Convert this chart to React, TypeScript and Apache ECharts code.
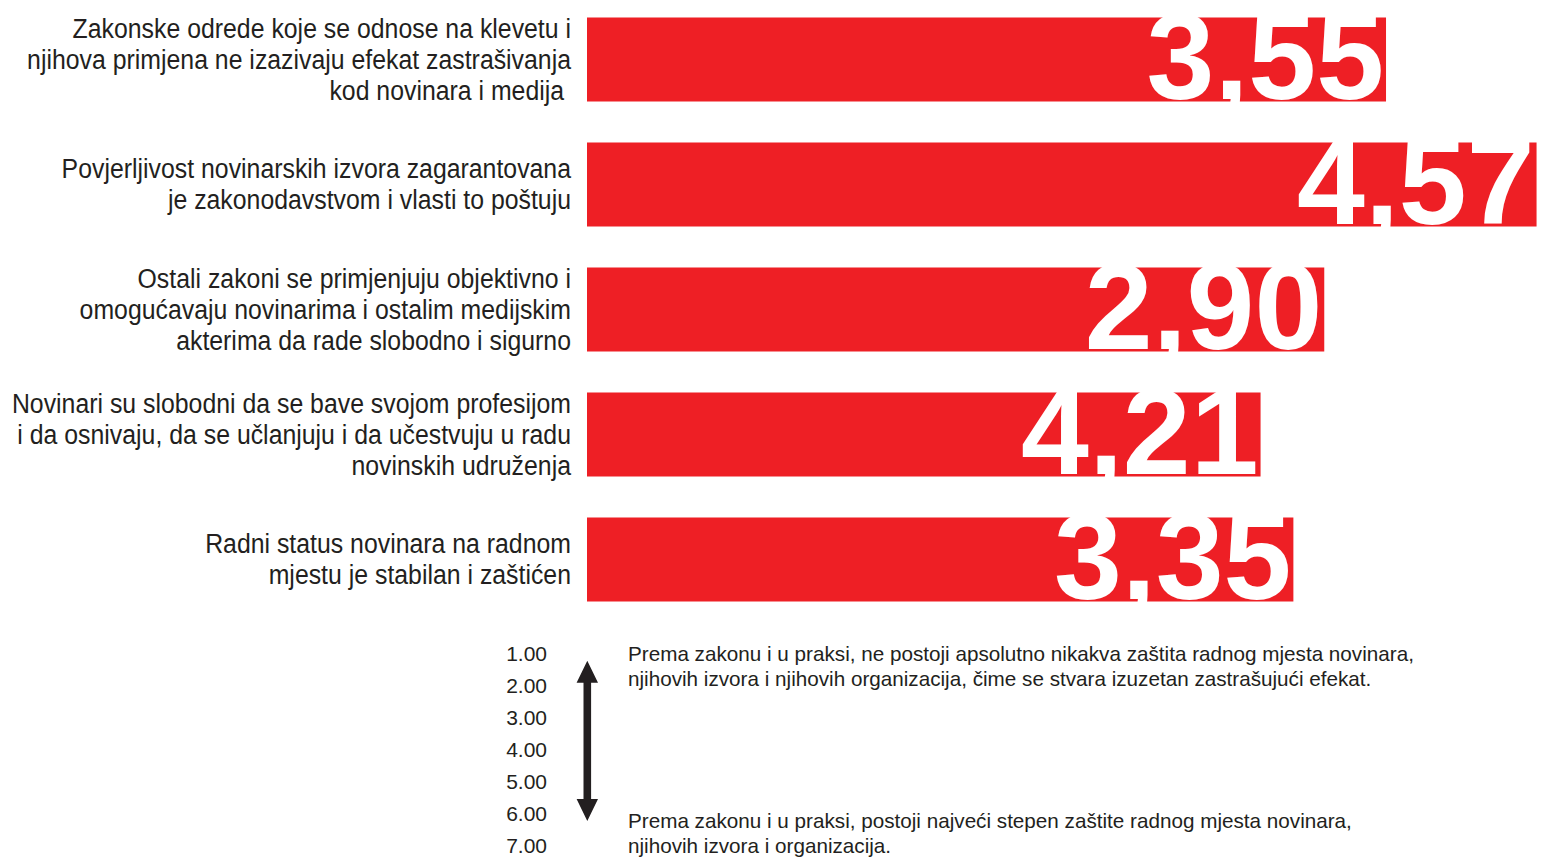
import React, { useEffect, useRef } from "react";
import * as echarts from "echarts";

const categories: string[] = [
  "Zakonske odrede koje se odnose na klevetu i\nnjihova primjena ne izazivaju efekat zastrašivanja\nkod novinara i medija ",
  "Povjerljivost novinarskih izvora zagarantovana\nje zakonodavstvom i vlasti to poštuju",
  "Ostali zakoni se primjenjuju objektivno i\nomogućavaju novinarima i ostalim medijskim\nakterima da rade slobodno i sigurno",
  "Novinari su slobodni da se bave svojom profesijom\ni da osnivaju, da se učlanjuju i da učestvuju u radu\nnovinskih udruženja",
  "Radni status novinara na radnom\nmjestu je stabilan i zaštićen",
];

// score shown on each bar
const scores: number[] = [3.55, 4.57, 2.9, 4.21, 3.35];

// bar lengths as drawn in the reference (not proportional to the scores)
const barLengths: number[] = [4.14, 4.92, 3.82, 3.49, 3.66];

// legend scale
const scaleMin = 1;
const scaleMax = 7;
const scaleTopText =
  "Prema zakonu i u praksi, ne postoji apsolutno nikakva zaštita radnog mjesta novinara,\nnjihovih izvora i njihovih organizacija, čime se stvara izuzetan zastrašujući efekat.";
const scaleBottomText =
  "Prema zakonu i u praksi, postoji najveći stepen zaštite radnog mjesta novinara,\nnjihovih izvora i organizacija.";

const RED = "#ee1f25";
const INK = "#231f20";
const SANS = "'Liberation Sans', Arial, sans-serif";

export default function App() {
  const ref = useRef<HTMLDivElement>(null);

  useEffect(() => {
    if (!ref.current) return;
    const chart = echarts.init(ref.current, undefined, { renderer: "svg" });
    const ax = 587.3;
    chart.setOption({
      animation: false,
      backgroundColor: "#ffffff",
      grid: [
        { left: 587, right: 0, top: -3, height: 625, outerBoundsMode: "none", containLabel: false },
        { left: 555, width: 10, top: 653, height: 192, outerBoundsMode: "none", containLabel: false },
      ],
      xAxis: [
        { type: "value", min: 0, max: 5, show: false, gridIndex: 0 },
        { type: "value", min: 0, max: 1, show: false, gridIndex: 1 },
      ],
      yAxis: [
        {
          type: "category",
          data: categories,
          inverse: true,
          gridIndex: 0,
          axisLine: { show: false },
          axisTick: { show: false },
          splitLine: { show: false },
          axisLabel: { show: false },
        },
        {
          type: "value",
          gridIndex: 1,
          min: scaleMin,
          max: scaleMax,
          interval: 1,
          inverse: true,
          axisLine: { show: false },
          axisTick: { show: false },
          splitLine: { show: false },
          axisLabel: {
            margin: 8,
            fontFamily: SANS,
            fontSize: 21,
            color: INK,
            formatter: (v: number) => v.toFixed(2),
          },
        },
      ],
      series: [
        {
          type: "bar",
          xAxisIndex: 0,
          yAxisIndex: 0,
          data: barLengths,
          barWidth: 84,
          itemStyle: { color: RED },
          label: {
            show: true,
            position: "insideRight",
            distance: 2,
            offset: [0, -3],
            formatter: (p: any) => scores[p.dataIndex].toFixed(2).replace(".", ","),
            color: "#ffffff",
            fontFamily: SANS,
            fontWeight: "bold",
            fontSize: 122,
            lineHeight: 122,
          },
        },
        {
          // category labels, condensed horizontally like the reference
          type: "custom",
          xAxisIndex: 0,
          yAxisIndex: 0,
          data: categories.map((_, i) => [0, i]),
          silent: true,
          renderItem: (params: any, api: any) => {
            const idx = params.dataIndex;
            const p = api.coord([0, idx]);
            return {
              type: "text",
              x: p[0] - 16,
              y: p[1],
              scaleX: 0.92,
              style: {
                text: categories[idx],
                font: `27px ${SANS}`,
                lineHeight: 31,
                fill: INK,
                align: "right",
                verticalAlign: "middle",
              },
            };
          },
        },
      ],
      graphic: [
        {
          type: "polygon",
          shape: {
            points: [
              [ax, 660.7],
              [ax + 10.7, 682.7],
              [ax + 3.8, 682.7],
              [ax + 3.8, 799],
              [ax + 10.7, 799],
              [ax, 821],
              [ax - 10.7, 799],
              [ax - 3.8, 799],
              [ax - 3.8, 682.7],
              [ax - 10.7, 682.7],
            ],
          },
          style: { fill: INK },
        },
        {
          type: "text",
          x: 628,
          y: 641,
          scaleX: 0.985,
          style: {
            text: scaleTopText,
            font: `21px ${SANS}`,
            lineHeight: 25,
            fill: INK,
          },
        },
        {
          type: "text",
          x: 628,
          y: 808,
          scaleX: 0.985,
          style: {
            text: scaleBottomText,
            font: `21px ${SANS}`,
            lineHeight: 25,
            fill: INK,
          },
        },
      ],
    });
    return () => chart.dispose();
  }, []);

  return (
    <div
      ref={ref}
      style={{ position: "fixed", left: 0, top: 0, width: "1552px", height: "857px" }}
    />
  );
}
